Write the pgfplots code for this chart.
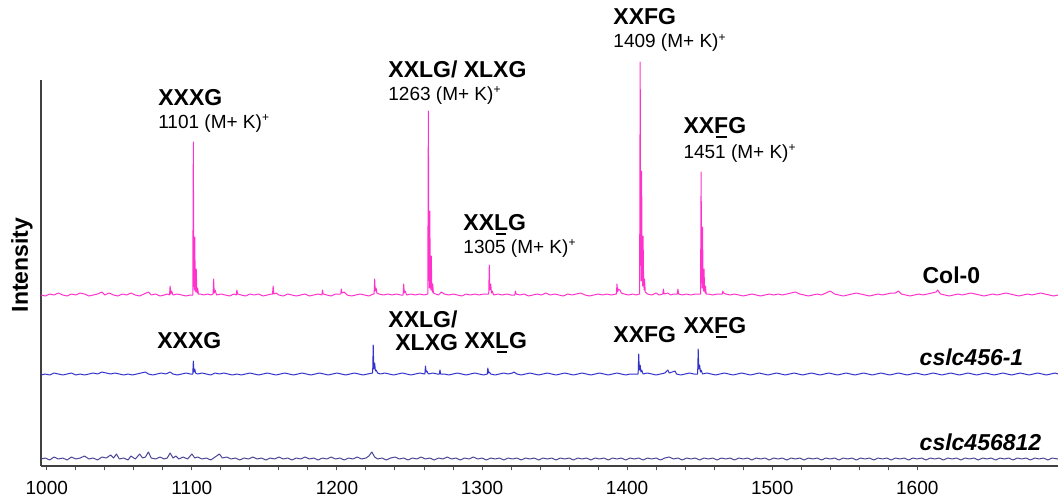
\documentclass[border=0pt]{standalone}
\usepackage{pgfplots}
\pgfplotsset{compat=1.18}
\usepackage{pgfplotstable}
\usepackage{fontspec}
\setmainfont{Liberation Sans}
\definecolor{colzero}{RGB}{255,51,204}
\definecolor{cslcone}{RGB}{51,51,204}
\definecolor{cslctwo}{RGB}{72,68,150}
\newcommand\ul[1]{\sbox0{#1}\rlap{\hspace{0.12\wd0}\rule[-2.4pt]{0.76\wd0}{0.9pt}}#1}
\newcommand\bl{\fontsize{11.5}{13}\selectfont\bfseries}
\newcommand\mk[1]{{\fontsize{9.5}{11}\selectfont #1 (M+ K)\raisebox{0.65ex}{\fontsize{6}{6}\selectfont +}}}

% Col-0 (intensity above its own baseline)
\pgfplotstableread{
x y
996 1
999 0
1002 2
1005 1
1008 3
1011 1
1014 0
1017 2
1020 1
1023 3
1026 2
1029 0
1032 1
1035 2
1038 4
1040 1
1043 3
1046 1
1049 0
1052 2
1055 1
1058 3
1061 1
1064 0
1067 2
1070 4
1072 1
1075 2
1078 0
1081 1
1083 2
1084.6 1
1085 10
1085.5 2
1086 5
1087 1
1090 2
1093 1
1096 0
1099 1
1100.6 1
1101 154
1101.3 25
1101.7 6
1102 59
1102.3 12
1102.7 4
1103 27
1103.4 5
1103.8 3
1104 8
1104.5 2
1106 2
1108 1
1111 2
1113 1
1114.6 2
1115 17
1115.4 3
1116 6
1117 1
1120 2
1123 1
1126 0
1129 2
1130.6 1
1131 6
1131.5 2
1134 1
1137 0
1140 2
1143 1
1146 2
1149 0
1152 1
1155 2
1155.6 2
1156 10
1156.5 2
1158 3
1160 1
1163 0
1166 2
1169 1
1172 0
1175 1
1178 2
1181 0
1184 1
1187 2
1189.6 1
1190 6
1190.5 2
1193 1
1196 0
1199 2
1202.6 2
1203 7
1203.5 3
1205 4
1207 1
1210 0
1213 1
1216 2
1219 1
1222 0
1225 2
1225.6 2
1226 17
1226.4 5
1227 8
1227.5 3
1229 2
1232 1
1235 2
1238 1
1241 2
1244 1
1245.6 1
1246 12
1246.4 3
1247 5
1248 1
1251 2
1254 1
1257 2
1260 1
1262.6 2
1263 185
1263.3 40
1263.7 8
1264 85
1264.3 20
1264.7 6
1265 40
1265.4 8
1265.8 4
1266 12
1266.5 3
1268 2
1270 1
1272 4
1274 2
1277 1
1280 2
1283 1
1286 0
1289 2
1292 1
1295 2
1298 1
1301 2
1304.6 2
1305 31
1305.4 6
1306 12
1306.5 3
1307 5
1308 1
1311 2
1314 1
1317 2
1320 1
1322.6 1
1323 5
1323.5 2
1326 1
1329 2
1332 0
1335 1
1338 2
1341 1
1344 3
1347 1
1350 2
1353 1
1356 0
1359 2
1362 1
1365 2
1368 3
1371 1
1374 0
1377 1
1380 2
1383 1
1386 2
1389 1
1392.6 2
1393 12
1393.5 4
1394 7
1395 6
1396 3
1398 2
1401 1
1404 2
1406 1
1408.6 2
1409 234
1409.3 60
1409.7 15
1410 125
1410.3 30
1410.7 10
1411 60
1411.4 12
1411.8 6
1412 17
1412.5 4
1414 2
1417 1
1420 3
1422 1
1424.6 2
1425 7
1425.5 2
1428 3
1430 1
1432 2
1434.6 2
1435 7
1435.5 2
1438 1
1441 2
1444 1
1447 2
1450.6 2
1451 124
1451.3 30
1451.7 8
1452 69
1452.3 15
1452.7 5
1453 27
1453.4 6
1453.8 3
1454 10
1454.5 2
1456 2
1459 1
1462 2
1465.6 2
1466 5
1466.5 3
1468 2
1471 1
1474 2
1477 1
1480 0
1483 1
1486 2
1489 1
1492 0
1495 1
1498 2
1501 1
1504 2
1507 1
1510 2
1513 3
1516 4
1519 2
1522 1
1525 0
1528 1
1531 2
1534 1
1537 3
1540 5
1543 2
1546 1
1549 0
1552 1
1555 2
1558 3
1561 2
1564 1
1567 0
1570 1
1573 2
1576 1
1579 2
1582 3
1585 3
1587 5
1589 2
1592 1
1595 0
1598 1
1601 2
1604 1
1607 2
1610 3
1613 4
1614 6
1616 2
1619 1
1622 0
1625 1
1628 2
1631 1
1634 2
1637 3
1640 2
1643 1
1646 0
1649 1
1652 2
1655 1
1658 2
1661 3
1664 2
1667 1
1670 0
1673 1
1676 2
1679 1
1682 2
1685 3
1688 2
1691 1
1694 0
1697 1
}\colzerodata

% cslc456-1
\pgfplotstableread{
x y
996 0
999 1
1002 0
1005 2
1008 1
1011 0
1014 1
1017 2
1020 0
1023 1
1026 0
1029 1
1032 2
1035 1
1038 3
1041 2
1044 1
1047 2
1050 1
1053 0
1056 1
1059 0
1062 1
1065 2
1068 3
1070 1
1073 0
1076 1
1079 2
1082 1
1085 3
1087 1
1090 0
1093 1
1096 2
1099 1
1100.6 1
1101 14
1101.4 3
1102 6
1102.5 2
1104 1
1107 2
1110 1
1113 0
1116 2
1119 1
1122 2
1125 1
1128 0
1131 1
1134 0
1137 1
1140 2
1143 1
1146 0
1149 1
1152 2
1155 1
1158 0
1161 1
1164 2
1167 1
1170 0
1173 1
1176 2
1179 1
1182 0
1185 1
1188 2
1191 1
1194 0
1197 1
1200 2
1203 1
1206 0
1209 1
1212 2
1215 1
1218 0
1221 1
1224.6 2
1225 30
1225.4 6
1226 12
1226.5 4
1227 5
1228 2
1230 1
1233 2
1236 1
1239 0
1242 1
1245 2
1248 1
1251 0
1254 1
1257 2
1260.6 1
1261 9
1261.5 3
1262 4
1263 1
1266 2
1269 1
1270.6 1
1271 5
1271.5 1
1274 1
1277 0
1280 1
1283 2
1286 1
1289 0
1292 1
1295 2
1298 1
1301 0
1303.6 1
1304 7
1304.5 2
1305 3
1306 1
1309 0
1312 1
1315 2
1318 1
1321 2
1322 3
1324 1
1327 0
1330 1
1333 2
1336 1
1339 0
1342 1
1345 2
1348 1
1351 0
1354 1
1357 2
1360 1
1363 0
1366 1
1369 2
1372 1
1375 0
1378 1
1381 2
1384 1
1387 0
1390 1
1393 2
1396 1
1399 0
1402 1
1405 1
1407.6 1
1408 21
1408.4 5
1409 10
1409.5 3
1410 5
1411 1
1414 2
1417 1
1420 0
1423 1
1426 2
1428 5
1429 2
1431 3
1433 4
1434 1
1437 0
1440 1
1443 2
1446 1
1448.6 1
1449 26
1449.4 6
1450 10
1450.5 3
1451 5
1452 1
1455 2
1458 1
1461 0
1464 1
1467 2
1470 1
1473 0
1476 1
1479 2
1482 1
1485 0
1488 1
1491 2
1494 1
1497 0
1500 1
1503 2
1506 1
1509 0
1512 1
1515 2
1518 1
1521 0
1524 1
1527 2
1530 1
1533 0
1536 1
1539 2
1542 1
1545 0
1548 1
1551 2
1554 1
1557 0
1560 1
1563 2
1566 1
1569 0
1572 1
1575 2
1578 1
1581 0
1584 1
1587 2
1590 1
1593 0
1596 1
1599 2
1602 1
1605 0
1608 1
1611 2
1614 1
1617 0
1620 1
1623 2
1626 1
1629 0
1632 1
1635 2
1638 1
1641 0
1644 1
1647 2
1650 1
1653 0
1656 1
1659 2
1662 1
1665 0
1668 1
1671 2
1674 1
1677 0
1680 1
1683 2
1686 1
1689 0
1692 1
1695 2
1697 1
}\cslconedata

% cslc456812
\pgfplotstableread{
x y
996 1
999 2
1002 0
1005 3
1008 1
1011 2
1014 0
1017 3
1020 1
1023 2
1026 4
1029 1
1032 2
1035 0
1038 3
1041 2
1044 5
1046 2
1048 6
1050 1
1053 2
1056 0
1058 4
1061 1
1064 6
1066 2
1068 3
1070 8
1072 2
1075 1
1078 3
1081 1
1083 2
1085 7
1087 2
1089 4
1091 1
1094 3
1097 1
1100 6
1102 2
1104 3
1107 1
1110 2
1113 0
1116 3
1119 6
1121 2
1124 3
1127 1
1130 2
1133 0
1136 2
1139 1
1142 3
1145 1
1148 2
1151 0
1154 2
1157 1
1160 3
1163 1
1166 2
1169 0
1172 2
1175 1
1178 3
1181 1
1184 2
1187 0
1190 2
1193 1
1196 3
1199 1
1202 2
1205 0
1208 2
1211 1
1214 3
1217 1
1220 2
1222 4
1224 8
1226 3
1228 1
1231 2
1234 0
1237 2
1240 3
1243 1
1246 2
1249 0
1252 2
1255 1
1258 3
1261 1
1264 2
1267 0
1270 2
1273 1
1276 3
1279 1
1282 2
1285 0
1288 2
1291 1
1294 3
1297 1
1300 2
1303 0
1306 2
1309 1
1312 2
1315 0
1318 2
1321 1
1324 2
1327 0
1330 2
1333 1
1336 2
1339 0
1342 2
1345 1
1348 2
1351 0
1354 2
1357 1
1360 2
1363 0
1366 2
1369 1
1372 2
1375 0
1378 2
1381 1
1384 2
1387 0
1390 2
1393 1
1396 2
1399 0
1402 2
1405 1
1408 2
1411 0
1414 2
1417 1
1420 2
1423 0
1426 2
1429 3
1432 1
1435 2
1438 0
1441 2
1444 1
1447 2
1450 0
1453 2
1456 1
1459 2
1462 0
1465 2
1468 1
1471 2
1474 0
1477 2
1480 1
1483 2
1486 0
1489 2
1492 1
1495 2
1498 0
1501 2
1504 1
1507 2
1510 0
1513 2
1516 1
1519 2
1522 0
1525 2
1528 1
1531 2
1534 0
1537 2
1540 1
1543 2
1546 0
1549 2
1552 1
1555 2
1558 0
1561 2
1564 1
1567 2
1570 0
1573 2
1576 1
1579 2
1582 0
1585 2
1588 1
1591 2
1594 0
1597 2
1600 1
1603 2
1606 0
1609 2
1612 1
1615 2
1618 0
1621 2
1624 1
1627 2
1630 0
1633 2
1636 1
1639 2
1642 0
1645 2
1648 1
1651 2
1654 0
1657 2
1660 1
1663 2
1666 0
1669 2
1672 1
1675 2
1678 0
1681 2
1684 1
1687 2
1690 0
1693 2
1697 1
}\cslctwodata

\begin{document}
\begin{tikzpicture}
\useasboundingbox (-20.5pt,-16.5pt) rectangle (508.5pt,233pt);
\begin{axis}[
  at={(0,0)}, anchor=south west,
  scale only axis, width=508.5pt, height=193pt,
  xmin=996, xmax=1697, ymin=0, ymax=386,
  axis x line=bottom, axis y line=left,
  axis line style={draw=black!75, line width=0.75pt, -},
  ytick=\empty,
  xtick={1000,1100,...,1600},
  minor x tick num=4,
  tick align=outside,
  major tick length=2pt, minor tick length=2pt,
  every tick/.style={black!70, line width=0.5pt},
  xticklabel style={font=\fontsize{9.5}{10}\selectfont, text=black, yshift=-2.2pt},
  /pgf/number format/1000 sep={},
  /pgf/number format/assume math mode=true,
  clip=false,
]
\addplot[colzero, line width=0.5pt, line join=round] table[x index=0, y expr=\thisrowno{1}+170] {\colzerodata};
\addplot[cslcone, line width=0.5pt, line join=round] table[x index=0, y expr=\thisrowno{1}+91] {\cslconedata};
\addplot[cslctwo, line width=0.5pt, line join=round] table[x index=0, y expr=\thisrowno{1}+6] {\cslctwodata};

\node[rotate=90, font=\fontsize{11.5}{13}\selectfont\bfseries] at (axis cs:982.8,201) {Intensity};

% Col-0 annotations
\node[anchor=base west, inner sep=0pt] at (axis cs:1076.6,361) {\bl XXXG};
\node[anchor=base west, inner sep=0pt] at (axis cs:1076.6,338) {\mk{1101}};
\node[anchor=base west, inner sep=0pt] at (axis cs:1235.2,389) {\bl XXLG/ XLXG};
\node[anchor=base west, inner sep=0pt] at (axis cs:1235.2,366) {\mk{1263}};
\node[anchor=base west, inner sep=0pt] at (axis cs:1286.9,236) {\bl XX\ul{L}G};
\node[anchor=base west, inner sep=0pt] at (axis cs:1286.9,213) {\mk{1305}};
\node[anchor=base west, inner sep=0pt] at (axis cs:1390.3,441) {\bl XXFG};
\node[anchor=base west, inner sep=0pt] at (axis cs:1390.3,418) {\mk{1409}};
\node[anchor=base west, inner sep=0pt] at (axis cs:1438.6,333) {\bl XX\ul{F}G};
\node[anchor=base west, inner sep=0pt] at (axis cs:1438.6,308) {\mk{1451}};
\node[anchor=base west, inner sep=0pt] at (axis cs:1603.4,183) {\bl Col-0};

% cslc456-1 annotations
\node[anchor=base west, inner sep=0pt] at (axis cs:1075.9,118) {\bl XXXG};
\node[anchor=base west, inner sep=0pt] at (axis cs:1235.2,139) {\bl XXLG/};
\node[anchor=base west, inner sep=0pt] at (axis cs:1240,116) {\bl XLXG};
\node[anchor=base west, inner sep=0pt] at (axis cs:1287.6,118) {\bl XX\ul{L}G};
\node[anchor=base west, inner sep=0pt] at (axis cs:1390.3,124) {\bl XXFG};
\node[anchor=base west, inner sep=0pt] at (axis cs:1438.6,133) {\bl XX\ul{F}G};
\node[anchor=base west, inner sep=0pt] at (axis cs:1601.4,101) {\bl\itshape cslc456-1};
\node[anchor=base west, inner sep=0pt] at (axis cs:1601.4,16) {\bl\itshape cslc456812};
\end{axis}
\end{tikzpicture}
\end{document}
